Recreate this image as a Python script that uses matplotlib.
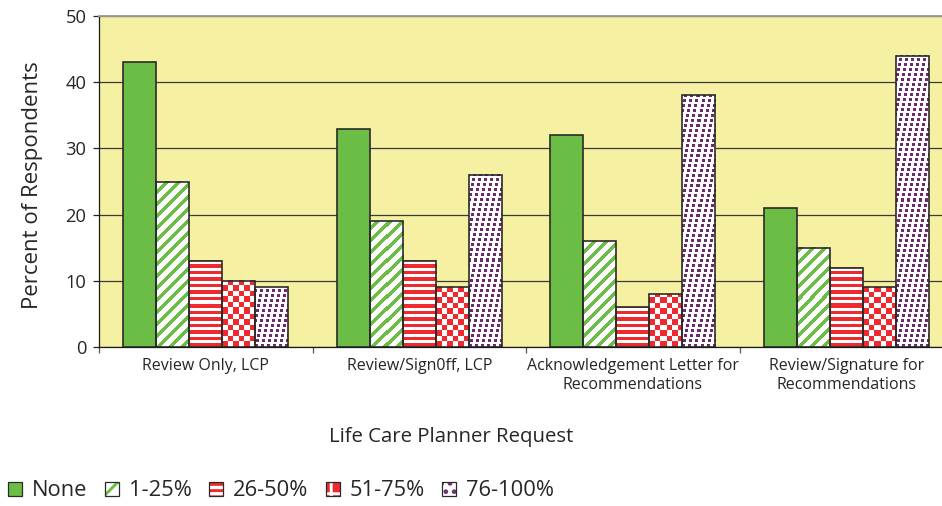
import numpy as np
import matplotlib.pyplot as plt
from matplotlib.patches import Patch

plt.rcParams["font.family"] = ["Open Sans", "DejaVu Sans"]
plt.rcParams["hatch.linewidth"] = 1.4

categories = [
    "Review Only, LCP",
    "Review/Sign0ff, LCP",
    "Acknowledgement Letter for\nRecommendations",
    "Review/Signature for\nRecommendations",
]
series_names = ["None", "1-25%", "26-50%", "51-75%", "76-100%"]
pct_none = [43, 33, 32, 21]
pct_1_25 = [25, 19, 16, 15]
pct_26_50 = [13, 13, 6, 12]
pct_51_75 = [10, 9, 8, 9]
pct_76_100 = [9, 26, 38, 44]
y_ticks = [0, 10, 20, 30, 40, 50]

YELLOW = "#F6F0A2"
GREEN = "#6BBD45"
RED = "#EE2A2E"
PURPLE = "#6C2B6E"
EDGE = "#2A2A2A"
TEXT = "#262626"
DPI = 150


# pixel masks for the fill patterns (x, y in output pixels, y upward)
def diag_mask(x, y):
    return ((x - y) % 12) < 5


def hline_mask(x, y):
    return (y % 6.5) < 3.4


def checker_mask(x, y):
    return ((x // 5.5).astype(int) + (y // 5.5).astype(int)) % 2 == 0


def dots_mask(x, y):
    row = y // 5
    shift = (row * 5) % 6
    return ((x + shift) % 6 < 3) & (y % 5 < 3)


def texture(w, h, mask_fn, color):
    x, y = np.meshgrid(np.arange(w), np.arange(h))
    rgb = np.array(plt.matplotlib.colors.to_rgb(color))
    img = np.ones((h, w, 3))
    img[mask_fn(x, y)] = rgb
    return img


def fill_with_texture(ax, bars, mask_fn, color):
    for bar in bars:
        x0 = bar.get_x()
        x1 = x0 + bar.get_width()
        top = bar.get_height()
        p0 = ax.transData.transform((x0, 0))
        p1 = ax.transData.transform((x1, top))
        w = max(int(round(p1[0] - p0[0])), 1)
        h = max(int(round(p1[1] - p0[1])), 1)
        ax.imshow(texture(w, h, mask_fn, color), extent=(x0, x1, 0, top),
                  origin="lower", interpolation="nearest", aspect="auto", zorder=2)


fig = plt.figure(figsize=(942 / DPI, 506 / DPI), dpi=DPI)
ax = fig.add_axes([99 / 942, 159 / 506, 854 / 942, 331 / 506])
ax.set_facecolor(YELLOW)

x = np.arange(len(categories))
width = 33 / 213.5
ax.set_xlim(-0.5, len(categories) - 0.5)
ax.set_ylim(0, 50)

series = [
    (pct_none, None, GREEN),
    (pct_1_25, diag_mask, GREEN),
    (pct_26_50, hline_mask, RED),
    (pct_51_75, checker_mask, RED),
    (pct_76_100, dots_mask, PURPLE),
]
for i, (values, mask_fn, color) in enumerate(series):
    pos = x + (i - 2) * width
    face = color if mask_fn is None else "none"
    bars = ax.bar(pos, values, width, facecolor=face, edgecolor=EDGE,
                  linewidth=0.8, zorder=3)
    if mask_fn is not None:
        fill_with_texture(ax, bars, mask_fn, color)

ax.set_xlim(-0.5, len(categories) - 0.5)
ax.set_ylim(0, 50)

ax.set_yticks(y_ticks)
ax.yaxis.grid(True, color="#3a3a3a", linewidth=0.6)
ax.set_axisbelow(True)
ax.tick_params(axis="y", direction="out", length=3, width=0.6, pad=3,
               labelsize=8.8, colors=TEXT)

ax.set_xticks(x)
ax.set_xticklabels(categories, fontsize=7.7, color=TEXT, linespacing=1.25)
ax.set_xticks(np.arange(-0.5, len(categories)), minor=True)
ax.tick_params(axis="x", which="major", length=0, pad=5.5)
ax.tick_params(axis="x", which="minor", direction="out", length=3, width=0.6,
               color="#555555")

for side in ("left", "bottom"):
    ax.spines[side].set_color("#1a1a1a")
    ax.spines[side].set_linewidth(0.6)
ax.spines["top"].set_color("#9a9a9a")
ax.spines["top"].set_linewidth(0.9)
ax.spines["right"].set_visible(False)

ax.set_ylabel("Percent of Respondents", fontsize=10.7, color=TEXT)
ax.yaxis.set_label_coords(-0.066, 0.49)
fig.text(451 / 942, 1 - 437 / 506, "Life Care Planner Request",
         fontsize=9.8, color=TEXT, ha="center", va="center")

legend_handles = [
    Patch(facecolor=GREEN, edgecolor=EDGE, linewidth=0.6),
    (Patch(facecolor="white", edgecolor=GREEN, hatch="///", linewidth=0),
     Patch(facecolor="none", edgecolor=EDGE, linewidth=0.6)),
    (Patch(facecolor="white", edgecolor=RED, hatch="----", linewidth=0),
     Patch(facecolor="none", edgecolor=EDGE, linewidth=0.6)),
    (Patch(facecolor=RED, edgecolor="white", hatch="++", linewidth=0),
     Patch(facecolor="none", edgecolor=EDGE, linewidth=0.6)),
    (Patch(facecolor="white", edgecolor=PURPLE, hatch="...", linewidth=0),
     Patch(facecolor="none", edgecolor=EDGE, linewidth=0.6)),
]
fig.legend(legend_handles, series_names, loc="center left",
           bbox_to_anchor=(8 / 942, 1 - 491 / 506), ncol=5, frameon=False,
           fontsize=10.5, handlelength=0.64, handleheight=0.64,
           handletextpad=0.45, columnspacing=0.8, borderpad=0,
           borderaxespad=0, labelcolor=TEXT)

fig.savefig("out.png", dpi=DPI)
